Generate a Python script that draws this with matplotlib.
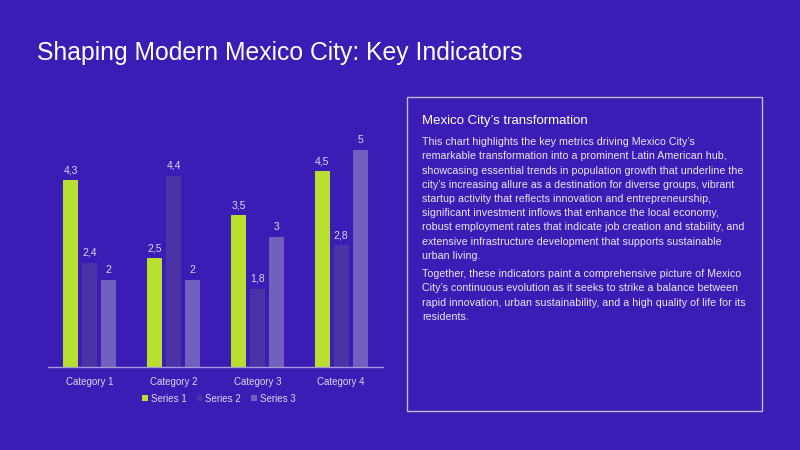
import matplotlib.pyplot as plt
from matplotlib.patches import Rectangle

categories = ["Category 1", "Category 2", "Category 3", "Category 4"]
series_names = ["Series 1", "Series 2", "Series 3"]
series_1 = [4.3, 2.5, 3.5, 4.5]
series_2 = [2.4, 4.4, 1.8, 2.8]
series_3 = [2, 2, 3, 5]

title = "Shaping Modern Mexico City: Key Indicators"
box_title = "Mexico City\u2019s transformation"
para_1 = [
    "This chart highlights the key metrics driving Mexico City\u2019s",
    "remarkable transformation into a prominent Latin American hub,",
    "showcasing essential trends in population growth that underline the",
    "city\u2019s increasing allure as a destination for diverse groups, vibrant",
    "startup activity that reflects innovation and entrepreneurship,",
    "significant investment inflows that enhance the local economy,",
    "robust employment rates that indicate job creation and stability, and",
    "extensive infrastructure development that supports sustainable",
    "urban living.",
]
para_2 = [
    "Together, these indicators paint a comprehensive picture of Mexico",
    "City\u2019s continuous evolution as it seeks to strike a balance between",
    "rapid innovation, urban sustainability, and a high quality of life for its",
    "residents.",
]

BG = "#3b1cb5"
COLORS = ["#b8de2f", "#4a33a6", "#7160bd"]
LABEL = "#ddd6f3"

plt.rcParams["font.family"] = ["Liberation Sans", "DejaVu Sans"]

W, H = 800, 450
fig = plt.figure(figsize=(8, 4.5), dpi=100, facecolor=BG)


def fy(py):
    return 1 - py / H


fig.text(37 / W, fy(53), title, fontsize=17.8, color="white", va="center", ha="left")

# chart
ax = fig.add_axes([48 / W, 83 / H, 335 / W, 239 / H])
ax.set_facecolor(BG)
x = range(len(categories))
width = 0.18
step = 0.226
for i, (vals, name, col) in enumerate(zip([series_1, series_2, series_3], series_names, COLORS)):
    pos = [k + (i - 1) * step for k in x]
    bars = ax.bar(pos, vals, width, color=col, label=name)
    ax.bar_label(bars, labels=[f"{v:g}".replace(".", ",") for v in vals],
                 padding=3.5, color=LABEL, fontsize=7.5)

ax.set_xlim(-0.5, 3.5)
ax.set_ylim(0, 5.5)
ax.set_yticks([])
ax.set_xticks(list(x))
ax.set_xticklabels(categories, color=LABEL, fontsize=7)
ax.tick_params(axis="x", length=0, pad=7)
for s in ["top", "right", "left"]:
    ax.spines[s].set_visible(False)
ax.spines["bottom"].set_color("#a99ade")
ax.spines["bottom"].set_linewidth(1)

ax.legend(loc="upper center", bbox_to_anchor=(0.51, -0.075), ncol=3, frameon=False,
          fontsize=7, handlelength=0.6, handleheight=0.6, handletextpad=0.3,
          columnspacing=1.0, labelcolor=LABEL)

# text box
fig.patches.append(Rectangle((407 / W, fy(411)), 355 / W, 314 / H, transform=fig.transFigure,
                             fill=False, edgecolor="#c3bbdc", linewidth=1))
fig.text(422 / W, fy(121), box_title, fontsize=9.5, color="white", va="center", ha="left")
for j, line in enumerate(para_1):
    fig.text(422 / W, fy(142 + j * 14.25), line, fontsize=7.7, color="#ebe6f8",
             va="center", ha="left")
for j, line in enumerate(para_2):
    fig.text(422 / W, fy(274 + j * 14.25), line, fontsize=7.7, color="#ebe6f8",
             va="center", ha="left")

fig.savefig("out.png", dpi=100, facecolor=BG)
